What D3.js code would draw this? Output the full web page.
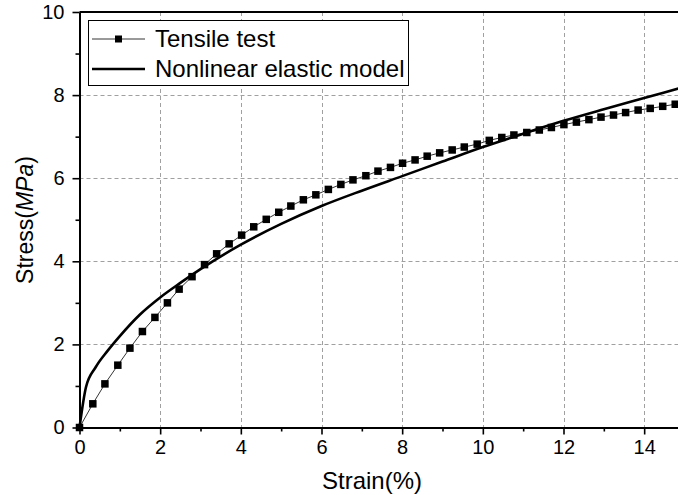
<!DOCTYPE html>
<html>
<head>
<meta charset="utf-8">
<script src="https://cdn.jsdelivr.net/npm/d3@7"></script>
<style>
  body { margin: 0; background: #fff; }
  svg { display: block; font-family: "Liberation Sans", Arial, sans-serif; }
</style>
</head>
<body>
<div id="chart"></div>
<script>
// Tensile test points (strain %, stress MPa)
const testStrain = [0, 0.33, 0.63, 0.95, 1.25, 1.56, 1.87, 2.18, 2.47, 2.79, 3.10, 3.40, 3.71, 4.02,
  4.32, 4.63, 4.94, 5.24, 5.55, 5.86, 6.17, 6.48, 6.78, 7.10, 7.40, 7.71, 8.01, 8.32, 8.62, 8.93,
  9.24, 9.54, 9.86, 10.16, 10.47, 10.77, 11.09, 11.40, 11.70, 12.01, 12.32, 12.63, 12.93, 13.24,
  13.54, 13.85, 14.15, 14.46, 14.77];
const testStress = [0, 0.57, 1.05, 1.50, 1.91, 2.31, 2.65, 3.00, 3.33, 3.63, 3.92, 4.18, 4.42, 4.63,
  4.83, 5.01, 5.18, 5.33, 5.48, 5.60, 5.73, 5.85, 5.96, 6.06, 6.17, 6.26, 6.36, 6.44, 6.53, 6.61,
  6.68, 6.75, 6.82, 6.91, 6.98, 7.04, 7.10, 7.16, 7.22, 7.29, 7.35, 7.41, 7.47, 7.52,
  7.58, 7.64, 7.68, 7.73, 7.78];

// Nonlinear elastic model curve
const modelStrain = [0, 0.16, 0.4, 0.7, 1, 1.5, 2, 2.5, 3, 4, 5, 6, 7, 8, 9, 10, 11, 12, 13, 14, 15];
const modelStress = [0, 0.97, 1.45, 1.85, 2.2, 2.72, 3.13, 3.48, 3.81, 4.40, 4.90, 5.33, 5.70, 6.05,
  6.40, 6.75, 7.07, 7.38, 7.66, 7.93, 8.20];

const xTicks = [0, 2, 4, 6, 8, 10, 12, 14];
const yTicks = [0, 2, 4, 6, 8, 10];
const legendLabels = ["Tensile test", "Nonlinear elastic model"];

const width = 678, height = 495;
const svg = d3.select("#chart").append("svg")
  .attr("width", width).attr("height", height);

const x = d3.scaleLinear().domain([0, 15]).range([79.5, 684.5]);
const y = d3.scaleLinear().domain([0, 10]).range([427.5, 12]);

// grid lines
const grid = svg.append("g").attr("stroke", "#a0a0a0").attr("stroke-width", 1)
  .attr("stroke-dasharray", "4,3");
grid.selectAll(".gx").data(xTicks.filter(d => d > 0)).enter().append("line")
  .attr("x1", d => Math.round(x(d)) + 0.5).attr("x2", d => Math.round(x(d)) + 0.5)
  .attr("y1", y(10)).attr("y2", y(0));
grid.selectAll(".gy").data(yTicks.filter(d => d > 0 && d < 10)).enter().append("line")
  .attr("y1", d => Math.round(y(d)) + 0.5).attr("y2", d => Math.round(y(d)) + 0.5)
  .attr("x1", x(0)).attr("x2", x(15));

// top frame
svg.append("line").attr("x1", x(0)).attr("x2", x(15))
  .attr("y1", y(10)).attr("y2", y(10))
  .attr("stroke", "#000").attr("stroke-width", 2);

// model curve
const modelData = modelStrain.map((d, i) => [d, modelStress[i]]);
svg.append("path").datum(modelData)
  .attr("fill", "none").attr("stroke", "#000").attr("stroke-width", 2.6)
  .attr("d", d3.line().x(d => x(d[0])).y(d => y(d[1])).curve(d3.curveMonotoneX));

// test data
const testData = testStrain.map((d, i) => [d, testStress[i]]);
svg.append("path").datum(testData)
  .attr("fill", "none").attr("stroke", "#000").attr("stroke-width", 0.8)
  .attr("d", d3.line().x(d => x(d[0])).y(d => y(d[1])));
const ms = 7.5;
svg.selectAll(".pt").data(testData).enter().append("rect")
  .attr("x", d => x(d[0]) - ms / 2).attr("y", d => y(d[1]) - ms / 2)
  .attr("width", ms).attr("height", ms).attr("fill", "#000");

// axes
const xAxis = svg.append("g").attr("transform", `translate(0,${y(0)})`)
  .call(d3.axisBottom(x).tickValues(xTicks).tickSize(7).tickSizeOuter(0).tickPadding(5));
svg.append("g").attr("transform", `translate(0,${y(0)})`)
  .call(d3.axisBottom(x).tickValues(d3.range(1, 15, 2)).tickSize(4).tickSizeOuter(0).tickFormat(""))
  .call(g => g.select(".domain").remove());
const yAxis = svg.append("g").attr("transform", `translate(${x(0)},0)`)
  .call(d3.axisLeft(y).tickValues(yTicks).tickSize(7).tickSizeOuter(0).tickPadding(8));
svg.append("g").attr("transform", `translate(${x(0)},0)`)
  .call(d3.axisLeft(y).tickValues([1, 3, 5, 7, 9]).tickSize(4).tickSizeOuter(0).tickFormat(""))
  .call(g => g.select(".domain").remove());

svg.selectAll(".domain").attr("stroke-width", 2);
svg.selectAll(".tick line").attr("stroke-width", 1.6);
xAxis.selectAll("text").attr("font-size", 20).attr("font-family", "Liberation Sans, Arial").attr("fill", "#000");
yAxis.selectAll("text").attr("font-size", 20).attr("font-family", "Liberation Sans, Arial").attr("fill", "#000");

// axis titles
svg.append("text").attr("x", 372).attr("y", 489).attr("text-anchor", "middle")
  .attr("font-size", 24).text("Strain(%)");
const yt = svg.append("text").attr("transform", "translate(33,220) rotate(-90)")
  .attr("text-anchor", "middle").attr("font-size", 23);
yt.append("tspan").text("Stress(");
yt.append("tspan").attr("font-style", "italic").text("MPa");
yt.append("tspan").text(")");

// legend
const lg = svg.append("g");
lg.append("rect").attr("x", 88.5).attr("y", 20.5).attr("width", 320).attr("height", 65)
  .attr("fill", "#fff").attr("stroke", "#000").attr("stroke-width", 1);
const rowY = [39, 69];
lg.selectAll(".ll").data(legendLabels).enter().append("line")
  .attr("x1", 92).attr("x2", 145)
  .attr("y1", (d, i) => rowY[i]).attr("y2", (d, i) => rowY[i])
  .attr("stroke", "#000").attr("stroke-width", (d, i) => i === 0 ? 0.8 : 2.6);
lg.append("rect").attr("x", 118.5 - 3.5).attr("y", rowY[0] - 3.5).attr("width", 7).attr("height", 7).attr("fill", "#000");
lg.selectAll(".lt").data(legendLabels).enter().append("text")
  .attr("x", 155).attr("y", (d, i) => rowY[i] + 8)
  .attr("font-size", 24).text(d => d);
</script>
</body>
</html>
